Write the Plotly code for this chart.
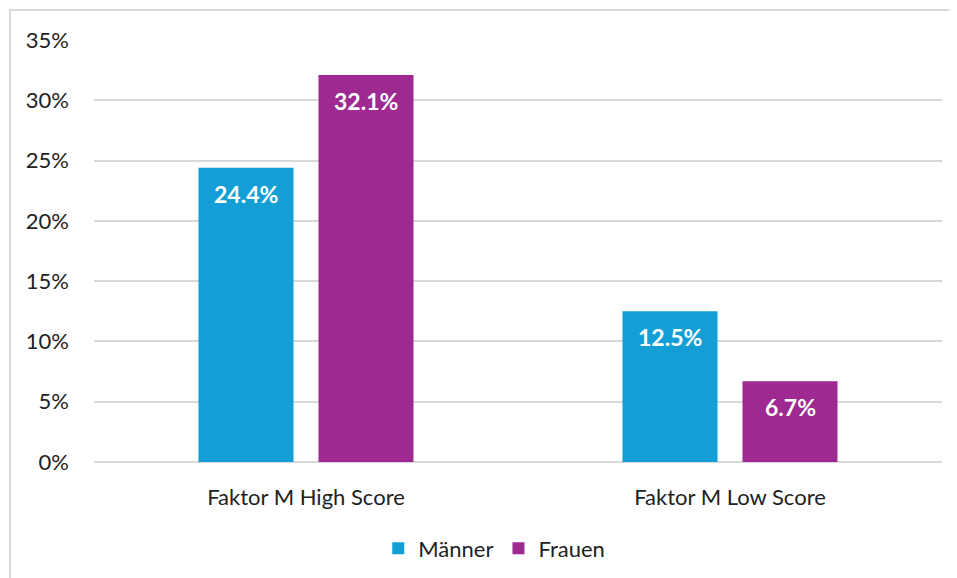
import plotly.graph_objects as go

categories = ["Faktor M High Score", "Faktor M Low Score"]
maenner = [24.4, 12.5]
frauen = [32.1, 6.7]
series_names = ["Männer", "Frauen"]
colors = ["#139fd6", "#9e2a91"]

FONT = "Lato"
fig = go.Figure()
for name, vals, col in zip(series_names, [maenner, frauen], colors):
    fig.add_trace(go.Bar(x=categories, y=vals, name=name, marker_color=col,
                         marker_line_width=0))

# data labels inside bars near the top
for i, (name, vals) in enumerate(zip(series_names, [maenner, frauen])):
    shift = -60 if i == 0 else 60
    for c, v in zip(categories, vals):
        fig.add_annotation(x=c, y=v, text=f"<b>{v:.1f}%</b>", showarrow=False,
                           xshift=shift, yshift=-26, yanchor="middle",
                           font=dict(family=FONT, size=23, color="white"))

fig.update_layout(
    width=957, height=578,
    margin=dict(l=86, r=23, t=32, b=124),
    paper_bgcolor="white", plot_bgcolor="white",
    barmode="group", bargap=0.434, bargroupgap=0.208,
    font=dict(family=FONT, size=22, color="#222222"),
    legend=dict(orientation="h", x=0.472, xanchor="center", y=-0.205, yanchor="middle",
                font=dict(family=FONT, size=22), itemwidth=30, traceorder="normal"),
    showlegend=True,
    shapes=[dict(type="rect", xref="paper", yref="paper", x0=-0.099, x1=1.2,
                 y0=-0.4, y1=1.0711, line=dict(color="#d9d9d9", width=2),
                 layer="below")],
)
fig.update_yaxes(range=[0, 35], dtick=5, ticksuffix="%", showgrid=True,
                 gridcolor="#d9d9d9", gridwidth=1.5, zeroline=True,
                 zerolinecolor="#d9d9d9", zerolinewidth=1.5, showline=False,
                 ticklabelstandoff=24, tickfont=dict(family=FONT, size=22))
fig.update_xaxes(showline=False, ticklabelstandoff=20,
                 tickfont=dict(family=FONT, size=22))

fig.write_html("out.html")
